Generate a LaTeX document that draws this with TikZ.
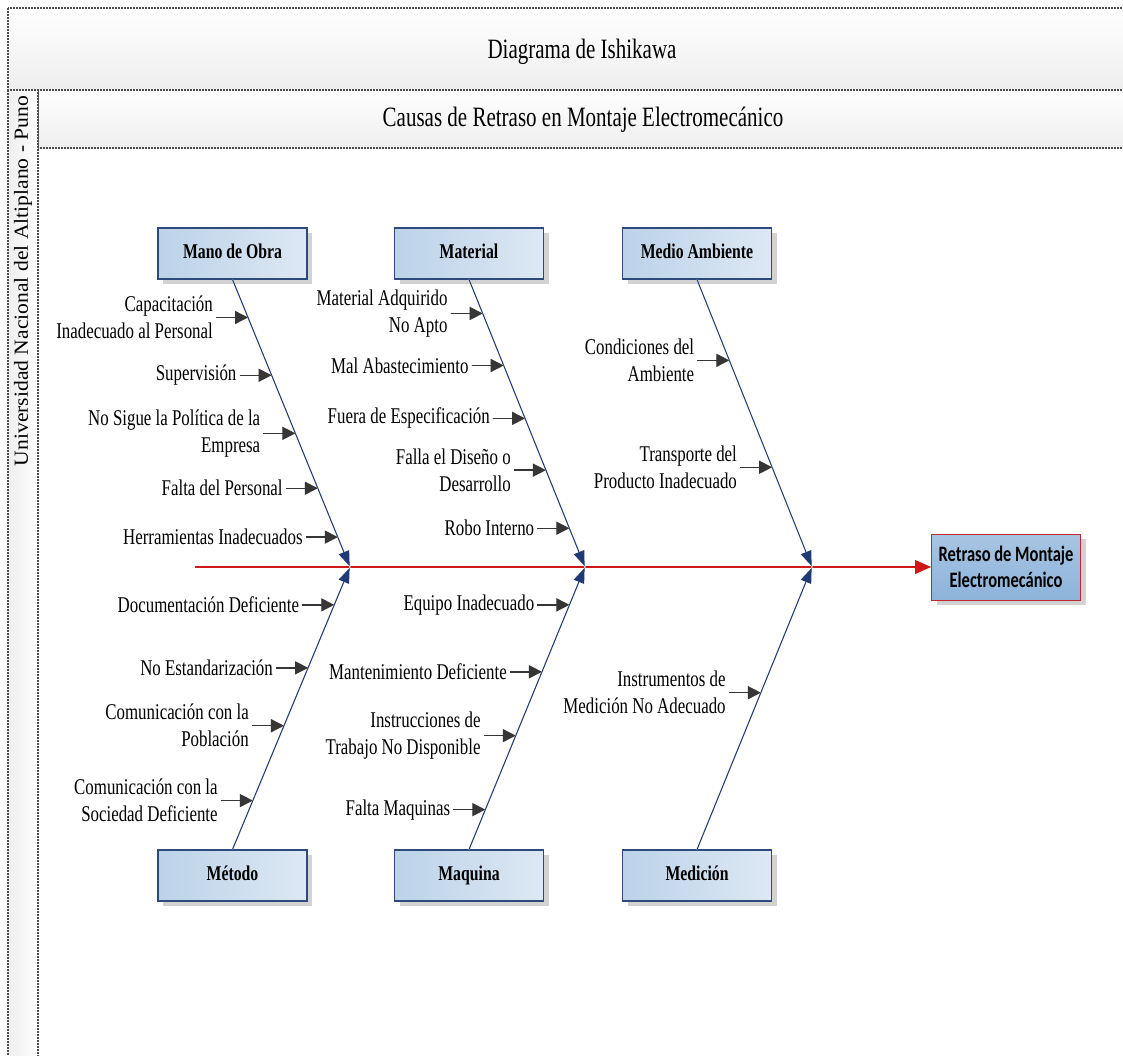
\documentclass[tikz,border=0pt]{standalone}
\usepackage{fontspec}
\setmainfont{Liberation Serif}
\newfontfamily\condserif[FakeStretch=0.75]{Liberation Serif}
\newfontfamily\condsans[FakeStretch=0.75]{Carlito}
\newfontfamily\sidefont[FakeStretch=1.08]{Liberation Serif}
\usetikzlibrary{arrows.meta,calc,shadows}

\definecolor{navy}{HTML}{1F3A75}
\definecolor{boxborder}{HTML}{2E4A7A}
\definecolor{boxL}{HTML}{BCD2E9}
\definecolor{boxR}{HTML}{DDE8F3}
\definecolor{effTop}{HTML}{A8C5E3}
\definecolor{effBot}{HTML}{8DB3DA}
\definecolor{effectred}{HTML}{C0272D}
\definecolor{spinered}{HTML}{D01818}
\definecolor{causegray}{HTML}{363636}
\definecolor{framegray}{HTML}{4D4D4D}
\definecolor{bandgray}{HTML}{EEEEEE}

% one cause: tip on the bone, label to its left, short arrow to the bone
\newcommand\causeitem[5]{%
  \coordinate (#1t) at ($(#2)!#4!(#3)$);
  \node[cause, anchor=east] (#1) at ($(#1t)+(-32,0)$) {#5};
  \draw[causeshadow] (#1.east) -- (#1t);
  \draw[causearrow] (#1.east) -- (#1t);}

\begin{document}
\begin{tikzpicture}[x=1pt,y=-1pt,
  framebox/.style={draw=framegray, line width=1.1pt, dash pattern=on 2pt off 1pt},
  bandtext/.style={inner sep=0pt, font=\condserif\fontsize{28}{32}\selectfont},
  sidetext/.style={inner sep=0pt, font=\sidefont\fontsize{20}{24}\selectfont},
  catbox/.style={draw=boxborder, line width=1.1pt, left color=boxL, right color=boxR,
    minimum width=149pt, minimum height=51pt, inner sep=0pt,
    text height=14pt, text depth=4pt,
    font=\condserif\bfseries\fontsize{21}{25}\selectfont,
    drop shadow={shadow xshift=5pt, shadow yshift=-5pt, fill=gray!35, opacity=1}},
  effectbox/.style={draw=effectred, line width=1pt, top color=effTop, bottom color=effBot,
    minimum width=149pt, minimum height=66pt, align=center, inner sep=0pt,
    font=\condsans\bfseries\fontsize{22}{26}\selectfont,
    drop shadow={shadow xshift=5pt, shadow yshift=-5pt, fill=gray!35, opacity=1}},
  cause/.style={align=right, inner sep=3pt, font=\condserif\fontsize{22.5}{27}\selectfont},
  causearrow/.style={draw=causegray, fill=causegray, line width=1.4pt,
    -{Triangle[length=13pt,width=13pt]}},
  causeshadow/.style={draw=gray!25, line width=1.4pt, -{Triangle[length=13pt,width=13pt]},
    xshift=2pt, yshift=-3pt},
  bone/.style={draw=navy, line width=1pt, -{Triangle[length=15pt,width=11pt]}},
  boneshadow/.style={draw=gray!22, line width=1.2pt, xshift=4pt, yshift=-1pt},
  spine/.style={draw=spinered, line width=1.1pt, -{Triangle[length=16pt,width=14pt]}},
  spineshadow/.style={draw=gray!22, line width=1.2pt, yshift=-3pt}]

\useasboundingbox (0,0) rectangle (1123,1055);
\clip (0,0) rectangle (1123,1055);
\fill[white] (0,0) rectangle (1123,1055);

% frame: title band, subtitle band and side strip
\draw[framebox, top color=white, bottom color=bandgray] (8,8) rectangle (1140,90);
\draw[framebox, top color=white, bottom color=bandgray] (38,90) rectangle (1140,148);
\draw[framebox, left color=bandgray, right color=white] (8,90) rectangle (38,1070);

\node[bandtext] (title) at (582,52) {Diagrama de Ishikawa};
\node[bandtext] (subtitle) at (583,120) {Causas de Retraso en Montaje Electromecánico};
\node[sidetext, rotate=90] (side) at (23,281) {Universidad Nacional del Altiplano - Puno};

% category boxes
\node[catbox] (mano) at (232.5,253.5) {Mano de Obra};
\node[catbox] (mat)  at (469,253.5)   {Material};
\node[catbox] (amb)  at (697,253.5)   {Medio Ambiente};
\node[catbox] (met)  at (232.5,875.5) {Método};
\node[catbox] (maq)  at (469,875.5)   {Maquina};
\node[catbox] (med)  at (697,875.5)   {Medición};

% effect and spine
\coordinate (tail) at (195,567);
\coordinate (j1) at (350,567);
\coordinate (j2) at (585,567);
\coordinate (j3) at (812,567);
\node[effectbox] (effect) at (1006,567) {Retraso de Montaje\\Electromecánico};

\draw[spineshadow] (tail) -- (effect.west);
\draw[spine] (tail) -- (effect.west);

% bones
\foreach \b/\j in {mano.south/j1, mat.south/j2, amb.south/j3, met.north/j1, maq.north/j2, med.north/j3}{
  \draw[boneshadow] (\b) -- (\j);
  \draw[bone, shorten >=1pt] (\b) -- (\j);
}

% causes: Mano de Obra
\causeitem{c11}{mano.south}{j1}{0.132}{Capacitación\\Inadecuado al Personal}
\causeitem{c12}{mano.south}{j1}{0.333}{Supervisión}
\causeitem{c13}{mano.south}{j1}{0.535}{No Sigue la Política de la\\Empresa}
\causeitem{c14}{mano.south}{j1}{0.726}{Falta del Personal}
\causeitem{c15}{mano.south}{j1}{0.896}{Herramientas Inadecuados}
% causes: Material
\causeitem{c21}{mat.south}{j2}{0.118}{Material Adquirido\\No Apto}
\causeitem{c22}{mat.south}{j2}{0.299}{Mal Abastecimiento}
\causeitem{c23}{mat.south}{j2}{0.483}{Fuera de Especificación}
\causeitem{c24}{mat.south}{j2}{0.663}{Falla el Diseño o\\Desarrollo}
\causeitem{c25}{mat.south}{j2}{0.865}{Robo Interno}
% causes: Medio Ambiente
\causeitem{c31}{amb.south}{j3}{0.281}{Condiciones del\\Ambiente}
\causeitem{c32}{amb.south}{j3}{0.653}{Transporte del\\Producto Inadecuado}
% causes: Método
\causeitem{c41}{j1}{met.north}{0.134}{Documentación Deficiente}
\causeitem{c42}{j1}{met.north}{0.357}{No Estandarización}
\causeitem{c43}{j1}{met.north}{0.562}{Comunicación con la\\Población}
\causeitem{c44}{j1}{met.north}{0.827}{Comunicación con la\\Sociedad Deficiente}
% causes: Maquina
\causeitem{c51}{j2}{maq.north}{0.134}{Equipo Inadecuado}
\causeitem{c52}{j2}{maq.north}{0.371}{Mantenimiento Deficiente}
\causeitem{c53}{j2}{maq.north}{0.597}{Instrucciones de\\Trabajo No Disponible}
\causeitem{c54}{j2}{maq.north}{0.859}{Falta Maquinas}
% causes: Medición
\causeitem{c61}{j3}{med.north}{0.445}{Instrumentos de\\Medición No Adecuado}

\end{tikzpicture}
\end{document}
